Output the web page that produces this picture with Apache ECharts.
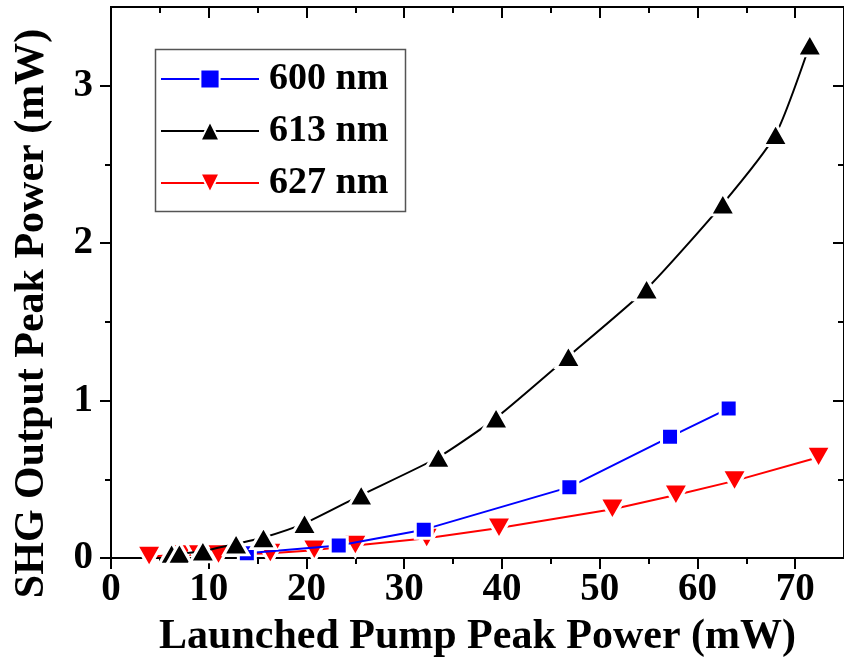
<!DOCTYPE html>
<html><head><meta charset="utf-8">
<script src="https://cdn.jsdelivr.net/npm/echarts@6/dist/echarts.min.js"></script>
<style>html,body{margin:0;padding:0;background:#fff}#c{width:844px;height:669px}</style>
</head><body><div id="c"></div>
<script>
// ---- data ----
const seriesNames = ['600 nm', '613 nm', '627 nm'];
const x600 = [13.9, 23.3, 32.0, 46.9, 57.2, 63.2];
const y600 = [0.03, 0.08, 0.18, 0.45, 0.77, 0.95];
const x613 = [6.2, 7.0, 9.4, 12.8, 15.6, 19.8, 25.6, 33.5, 39.4, 46.8, 54.8, 62.6, 68.0, 71.5];
const y613 = [0.03, 0.03, 0.045, 0.09, 0.13, 0.22, 0.40, 0.64, 0.89, 1.28, 1.71, 2.25, 2.69, 3.26];
const x627 = [3.9, 7.2, 9.0, 11.0, 16.3, 20.8, 25.0, 32.3, 39.7, 51.3, 57.8, 63.8, 72.4];
const y627 = [0.01, 0.02, 0.02, 0.02, 0.03, 0.05, 0.08, 0.125, 0.19, 0.31, 0.40, 0.49, 0.64];
const xTicks = [0, 10, 20, 30, 40, 50, 60, 70];
const xMinorTicks = [5, 15, 25, 35, 45, 55, 65];
const yTicks = [0, 1, 2, 3];
const yMinorTicks = [0.5, 1.5, 2.5];
const xTitle = 'Launched Pump Peak Power (mW)';
const yTitle = 'SHG Output Peak Power (mW)';

const FONT = '"Liberation Serif","Times New Roman",serif';
function pairs(xs, ys) { return xs.map((x, i) => [x, ys[i]]); }
const lineSt = { color: '#000', width: 2 };

function xAx(pos, ticks, len, inside, withLabels) {
  const a = {
    type: 'value', position: pos, min: 0, max: 75,
    axisLine: { show: true, onZero: false, lineStyle: lineSt },
    axisTick: { show: true, customValues: ticks, length: len, inside: inside, lineStyle: lineSt },
    axisLabel: { show: false },
    splitLine: { show: false }
  };
  if (withLabels) {
    a.axisLabel = { show: true, customValues: xTicks, margin: 12, color: '#000',
      fontFamily: FONT, fontWeight: 'bold', fontSize: 39 };
    a.name = xTitle; a.nameLocation = 'middle'; a.nameGap = 58;
    a.nameTextStyle = { fontFamily: FONT, fontWeight: 'bold', fontSize: 42, color: '#000' };
  }
  return a;
}
function yAx(pos, ticks, len, inside, withLabels) {
  const a = {
    type: 'value', position: pos, min: 0, max: 3.5,
    axisLine: { show: true, onZero: false, lineStyle: lineSt },
    axisTick: { show: true, customValues: ticks, length: len, inside: inside, lineStyle: lineSt },
    axisLabel: { show: false },
    splitLine: { show: false }
  };
  if (withLabels) {
    a.axisLabel = { show: true, customValues: yTicks, margin: 18, color: '#000',
      fontFamily: FONT, fontWeight: 'bold', fontSize: 39 };
    a.name = yTitle; a.nameLocation = 'middle'; a.nameGap = 58;
    a.nameTextStyle = { fontFamily: FONT, fontWeight: 'bold', fontSize: 42, color: '#000', padding: [0, 62, 0, 0] };
  }
  return a;
}

const chart = echarts.init(document.getElementById('c'), null, { renderer: 'canvas' });
const downTri = 'path://M0,0L20,0L10,17Z';
chart.setOption({
  animation: false,
  backgroundColor: '#fff',
  grid: { left: 111, right: -7, top: 7, bottom: 111, containLabel: false },
  xAxis: [
    xAx('bottom', xTicks, 11, false, true),
    xAx('bottom', xMinorTicks, 6, false, false),
    xAx('top', xTicks, 11, true, false),
    xAx('top', xMinorTicks, 6, true, false)
  ],
  yAxis: [
    yAx('left', yTicks, 11, false, true),
    yAx('left', yMinorTicks, 6, false, false),
    yAx('right', yTicks, 11, true, false),
    yAx('right', yMinorTicks, 6, true, false)
  ],
  legend: {
    left: 160, top: 58, orient: 'vertical', padding: 0,
    itemWidth: 98, itemHeight: 24, itemGap: 10,
    data: seriesNames,
    textStyle: { fontFamily: FONT, fontWeight: 'bold', fontSize: 38, color: '#000', lineHeight: 42, padding: [0, 0, 0, 5] }
  },
  graphic: [{
    type: 'rect', left: 153, top: 47, shape: { width: 250, height: 162 },
    style: { fill: 'none', stroke: '#555', lineWidth: 1.5 }
  }],
  series: [
    { name: seriesNames[2], type: 'line', data: pairs(x627, y627), z: 2,
      symbol: downTri, symbolSize: [25, 22],
      lineStyle: { color: '#ff0000', width: 2 },
      itemStyle: { color: '#ff0000', borderColor: '#fff', borderWidth: 3 } },
    { name: seriesNames[0], type: 'line', data: pairs(x600, y600), z: 3,
      symbol: 'rect', symbolSize: 17,
      lineStyle: { color: '#0000ff', width: 2 },
      itemStyle: { color: '#0000ff', borderColor: '#fff', borderWidth: 3 } },
    { name: seriesNames[1], type: 'line', data: pairs(x613, y613), z: 4, smooth: 0.2,
      symbol: 'triangle', symbolSize: [25, 22],
      lineStyle: { color: '#000', width: 2 },
      itemStyle: { color: '#000', borderColor: '#fff', borderWidth: 3 } }
  ]
});
</script></body></html>
